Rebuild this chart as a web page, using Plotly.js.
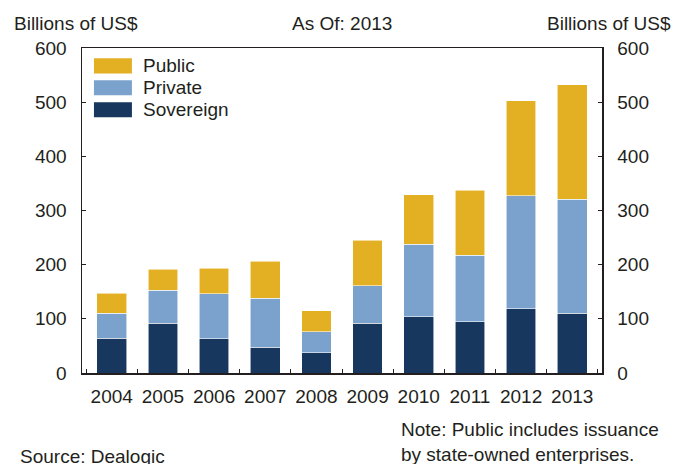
<!DOCTYPE html>
<html>
<head>
<meta charset="utf-8">
<script src="https://cdn.plot.ly/plotly-3.0.1.min.js"></script>
<style>
  html, body { margin: 0; padding: 0; background: #ffffff; }
  #chart { width: 676px; height: 464px; }
</style>
</head>
<body>
<div id="chart"></div>
<script>
const years = ["2004","2005","2006","2007","2008","2009","2010","2011","2012","2013"];
const sovereign = [64, 92, 63, 48, 37, 92, 104, 95, 119, 110];
const privateVals = [46, 61, 83, 90, 39, 69, 134, 122, 208, 211];
const publicVals = [37, 39, 47, 68, 39, 84, 91, 120, 176, 211];
const yTicks = [0, 100, 200, 300, 400, 500, 600];
const seriesNames = ["Sovereign", "Private", "Public"];
const seriesColors = ["#17375e", "#7ba2cd", "#e3b023"];

const FONT = "Liberation Sans, Arial, Helvetica, sans-serif";
const TXT = "#231f20";
const lineStyle = { color: "rgba(255,255,255,0.7)", width: 0.8 };

const seriesData = [sovereign, privateVals, publicVals];
const traces = seriesData.map((vals, i) => ({
  type: "bar", name: seriesNames[i], x: years, y: vals,
  marker: { color: seriesColors[i], line: lineStyle }
}));
traces.push({ type: "scatter", x: years, y: years.map(() => null), yaxis: "y2",
  showlegend: false, hoverinfo: "skip" });

const axisY = {
  range: [0, 600], tickvals: yTicks, ticktext: yTicks.map(String),
  ticks: "inside", ticklen: 4, tickcolor: "#231f20", tickwidth: 1,
  showline: true, linecolor: "#231f20", linewidth: 1.5,
  showgrid: false, zeroline: false, fixedrange: true,
  tickfont: { family: FONT, size: 19, color: TXT },
  ticklabelstandoff: 10
};

// custom legend (top to bottom: Public, Private, Sovereign)
const legendRows = [0.945, 0.878, 0.810];
const legendOrder = [2, 1, 0];
const shapes = [];
const annotations = [];
legendOrder.forEach((si, r) => {
  const cy = legendRows[r];
  shapes.push({ type: "rect", xref: "paper", yref: "paper",
    x0: 0.023, x1: 0.096, y0: cy - 0.0231, y1: cy + 0.0231,
    fillcolor: seriesColors[si], line: { width: 0 } });
  annotations.push({ text: seriesNames[si], xref: "paper", yref: "paper",
    x: 0.113, y: cy, xanchor: "left", yanchor: "middle", showarrow: false,
    font: { family: FONT, size: 19, color: TXT } });
});

annotations.push(
  { text: "Billions of US$", xref: "paper", yref: "paper", x: -0.135, y: 1.075,
    xanchor: "left", yanchor: "middle", showarrow: false,
    font: { family: FONT, size: 19, color: TXT } },
  { text: "As Of: 2013", xref: "paper", yref: "paper", x: 0.5, y: 1.075,
    xanchor: "center", yanchor: "middle", showarrow: false,
    font: { family: FONT, size: 19, color: TXT } },
  { text: "Billions of US$", xref: "paper", yref: "paper", x: 1.137, y: 1.075,
    xanchor: "right", yanchor: "middle", showarrow: false,
    font: { family: FONT, size: 19, color: TXT } },
  { text: "Source: Dealogic", xref: "paper", yref: "paper", x: -0.124, y: -0.258,
    xanchor: "left", yanchor: "middle", showarrow: false,
    font: { family: FONT, size: 19, color: TXT } },
  { text: "Note: Public includes issuance<br>by state-owned enterprises.", xref: "paper", yref: "paper",
    x: 0.609, y: -0.212, xanchor: "left", yanchor: "middle", align: "left",
    showarrow: false, font: { family: FONT, size: 19, color: TXT } }
);

const layout = {
  width: 676, height: 464,
  margin: { l: 82, r: 74, t: 48, b: 91, pad: 0 },
  paper_bgcolor: "#ffffff", plot_bgcolor: "#ffffff",
  barmode: "stack", bargap: 0.42,
  font: { family: FONT, size: 19, color: TXT },
  showlegend: false,
  xaxis: {
    type: "category", tickson: "boundaries", tickangle: 0,
    ticks: "inside", ticklen: 4, tickcolor: "#231f20",
    showline: true, linecolor: "#231f20", linewidth: 1.5, mirror: true,
    showgrid: false, zeroline: false, fixedrange: true,
    tickfont: { family: FONT, size: 19, color: TXT },
    ticklabelstandoff: 6
  },
  yaxis: Object.assign({}, axisY, { side: "left", mirror: true }),
  yaxis2: Object.assign({}, axisY, { side: "right", overlaying: "y" }),
  shapes: shapes,
  annotations: annotations
};

Plotly.newPlot("chart", traces, layout, { displayModeBar: false, staticPlot: true });
</script>
</body>
</html>
